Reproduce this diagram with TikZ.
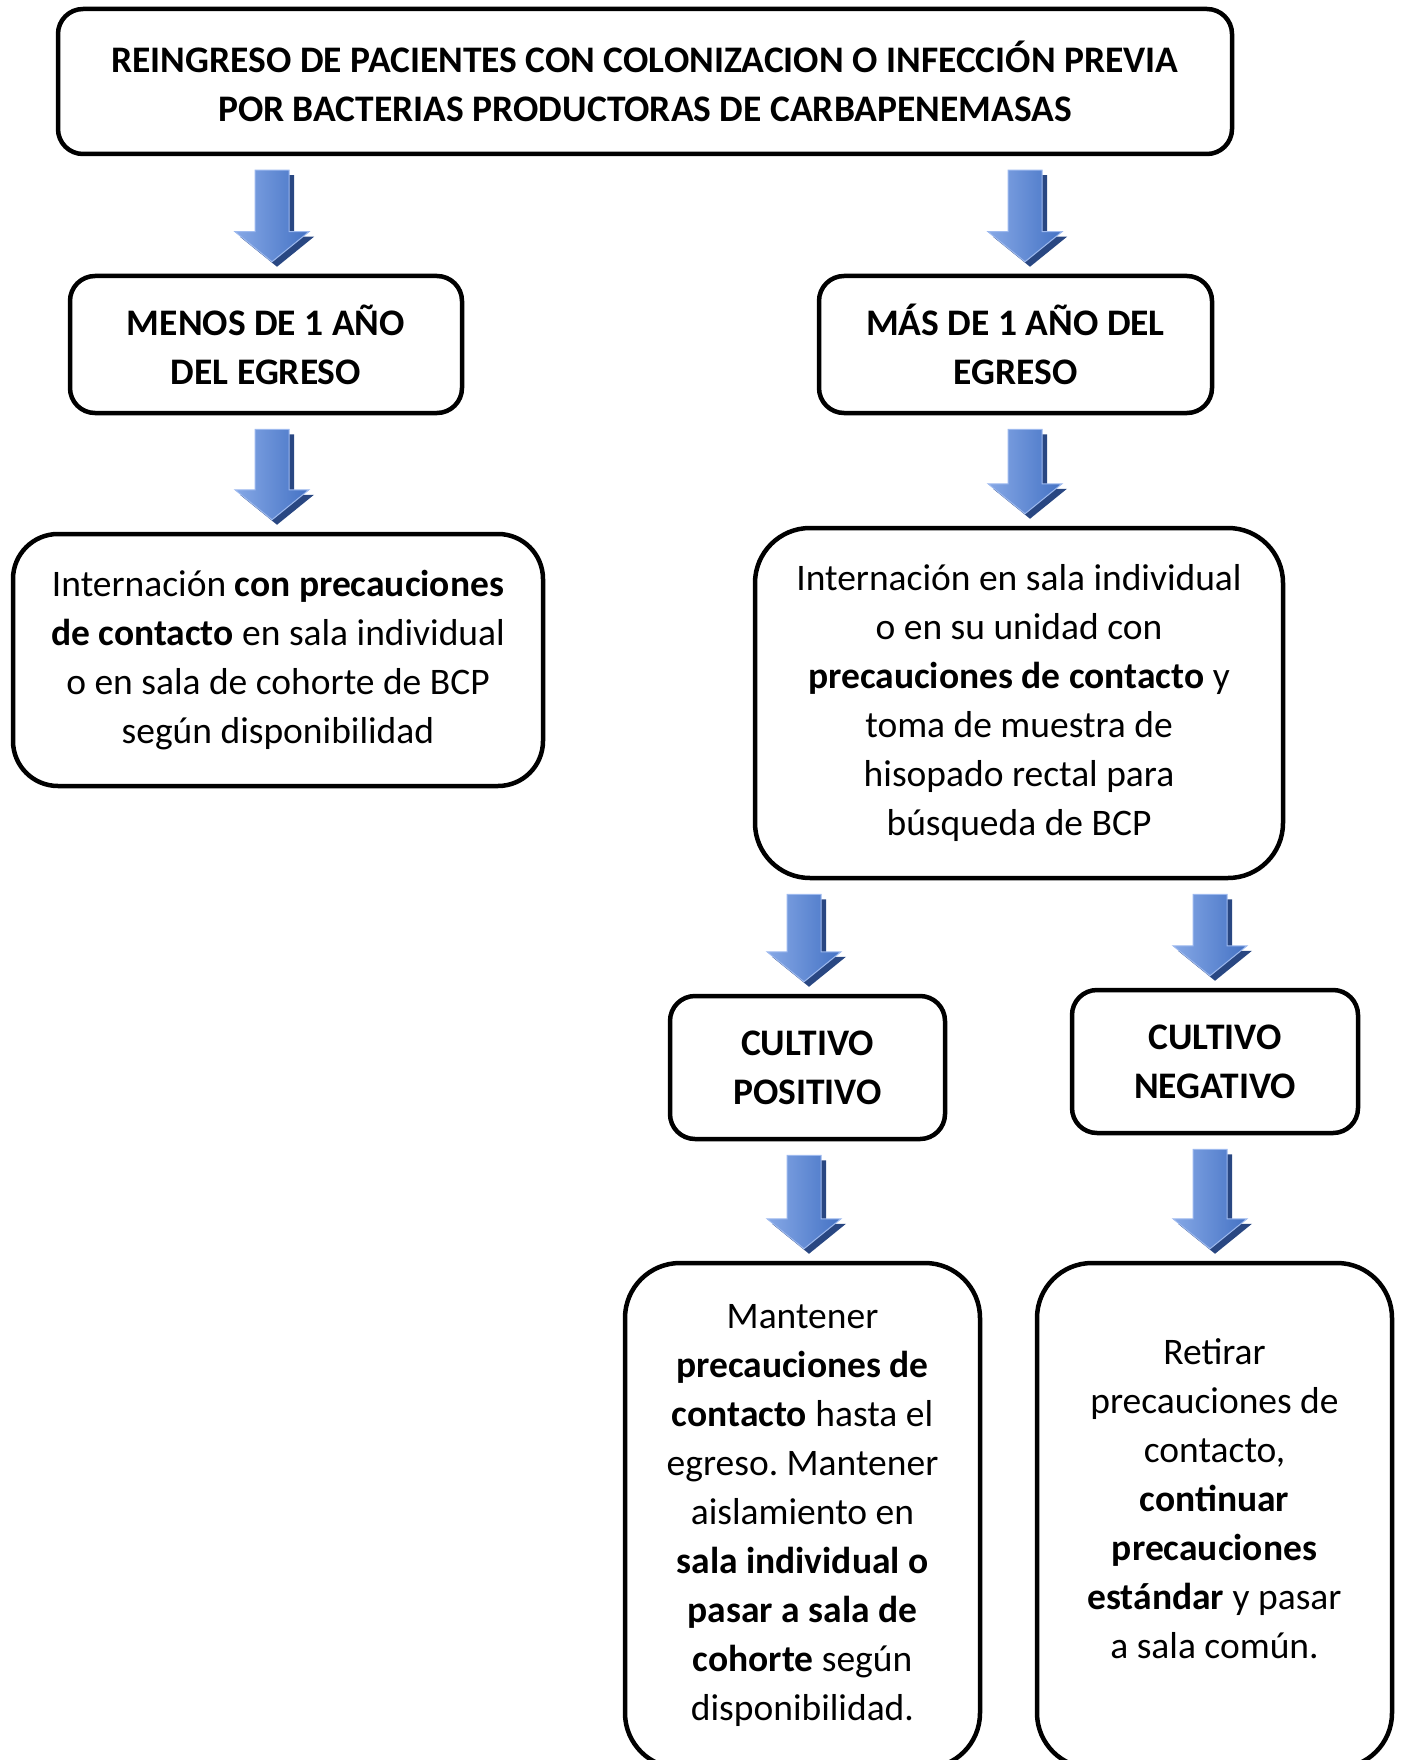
\documentclass[tikz,border=0pt]{standalone}
\usepackage{fontspec}
\setmainfont{Carlito}
\frenchspacing
\usetikzlibrary{positioning}
\usetikzlibrary{calc}
\definecolor{flechaclara}{HTML}{86A8E6}
\definecolor{flechamedia}{HTML}{4472C4}
\definecolor{flechaoscura}{HTML}{294782}
\definecolor{flechaborde}{HTML}{9DB9EE}
\tikzset{
  box/.style     = { rectangle, align=center, inner sep=0pt, font=\fontsize{37.5}{49}\selectfont },
  border/.style  = { line width=4.5pt, draw=black },
  round/.style   = { rounded corners=25pt },
  rounder/.style = { rounded corners=55pt },
}
\tikzset{
  titulo/.style       = { box, border, round, font=\fontsize{37.5}{49}\selectfont\bfseries },
  accion/.style       = { box, border, rounder },
  flechasombra/.style = { fill=flechaoscura },
  flechacuerpo/.style = { left color=flechaclara, right color=flechamedia, draw=flechaborde, line width=1pt }
}
% block arrow: from node, to node, x offset
\newcommand{\flechaforma}[1]{(\x2-17pt+#1,\y1-14pt-#1) -- (\x2+17pt+#1,\y1-14pt-#1) -- (\x2+17pt+#1,\y2+42pt-#1)
  -- (\x2+37pt+#1,\y2+42pt-#1) -- (\x2+#1,\y2+12pt-#1) -- (\x2-37pt+#1,\y2+42pt-#1) -- (\x2-17pt+#1,\y2+42pt-#1) -- cycle}
\newcommand{\flecha}[3]{%
  \path [flechasombra]
    let \p1 = (#1.south), \p2 = ($(#2.north)+(#3,0)$) in \flechaforma{5pt};
  \path [flechacuerpo]
    let \p1 = (#1.south), \p2 = ($(#2.north)+(#3,0)$) in \flechaforma{0pt};
}
\begin{document}
\begin{tikzpicture}[x=1pt,y=-1pt]
  \useasboundingbox (0,0) rectangle (1403,1760);
  \clip (0,0) rectangle (1403,1760);

  \node (reingreso) [titulo,minimum width=1174pt,minimum height=145pt] at (645,81.5)
        {REINGRESO DE PACIENTES CON COLONIZACION O INFECCIÓN PREVIA\\POR BACTERIAS PRODUCTORAS DE CARBAPENEMASAS};

  \node (menos) [titulo,minimum width=392pt,minimum height=137pt] at (266,344.5)
        {MENOS DE 1 AÑO\\DEL EGRESO};
  \node (mas)   [titulo,minimum width=393pt,minimum height=137pt] at (1015.5,344.5)
        {MÁS DE 1 AÑO DEL\\EGRESO};

  \node (internacion) [accion,rounded corners=45pt,minimum width=530pt,minimum height=252pt] at (278,660)
        {Internación \textbf{con precauciones}\\\textbf{de contacto} en sala individual\\o en sala de cohorte de BCP\\según disponibilidad};
  \node (hisopado) [accion,minimum width=528pt,minimum height=350pt] at (1019,703)
        {Internación en sala individual\\o en su unidad con\\\textbf{precauciones de contacto} y\\toma de muestra de\\hisopado rectal para\\búsqueda de BCP};

  \node (positivo) [titulo,minimum width=275pt,minimum height=143pt] at (807.5,1067.5)
        {CULTIVO\\POSITIVO};
  \node (negativo) [titulo,minimum width=286pt,minimum height=143pt] at (1215,1061.5)
        {CULTIVO\\NEGATIVO};

  \node (mantener) [accion,minimum width=355pt,minimum height=505pt] at (802.5,1515.5)
        {Mantener\\\textbf{precauciones de}\\\textbf{contacto} hasta el\\egreso. Mantener\\aislamiento en\\\textbf{sala individual o}\\\textbf{pasar a sala de}\\\textbf{cohorte} según\\disponibilidad.};
  \node (retirar)  [accion,minimum width=355pt,minimum height=505pt] at (1214.5,1515.5)
        {Retirar\\precauciones de\\contacto,\\\textbf{continuar}\\\textbf{precauciones}\\\textbf{estándar} y pasar\\a sala común.\\[-15pt]\mbox{}};

  \flecha{reingreso}{menos}{6}
  \flecha{reingreso}{mas}{9.5}
  \flecha{menos}{internacion}{-6}
  \flecha{mas}{hisopado}{6}
  \flecha{hisopado}{positivo}{-3.5}
  \flecha{hisopado}{negativo}{-5}
  \flecha{positivo}{mantener}{1.5}
  \flecha{negativo}{retirar}{-4.5}

\end{tikzpicture}
\end{document}
